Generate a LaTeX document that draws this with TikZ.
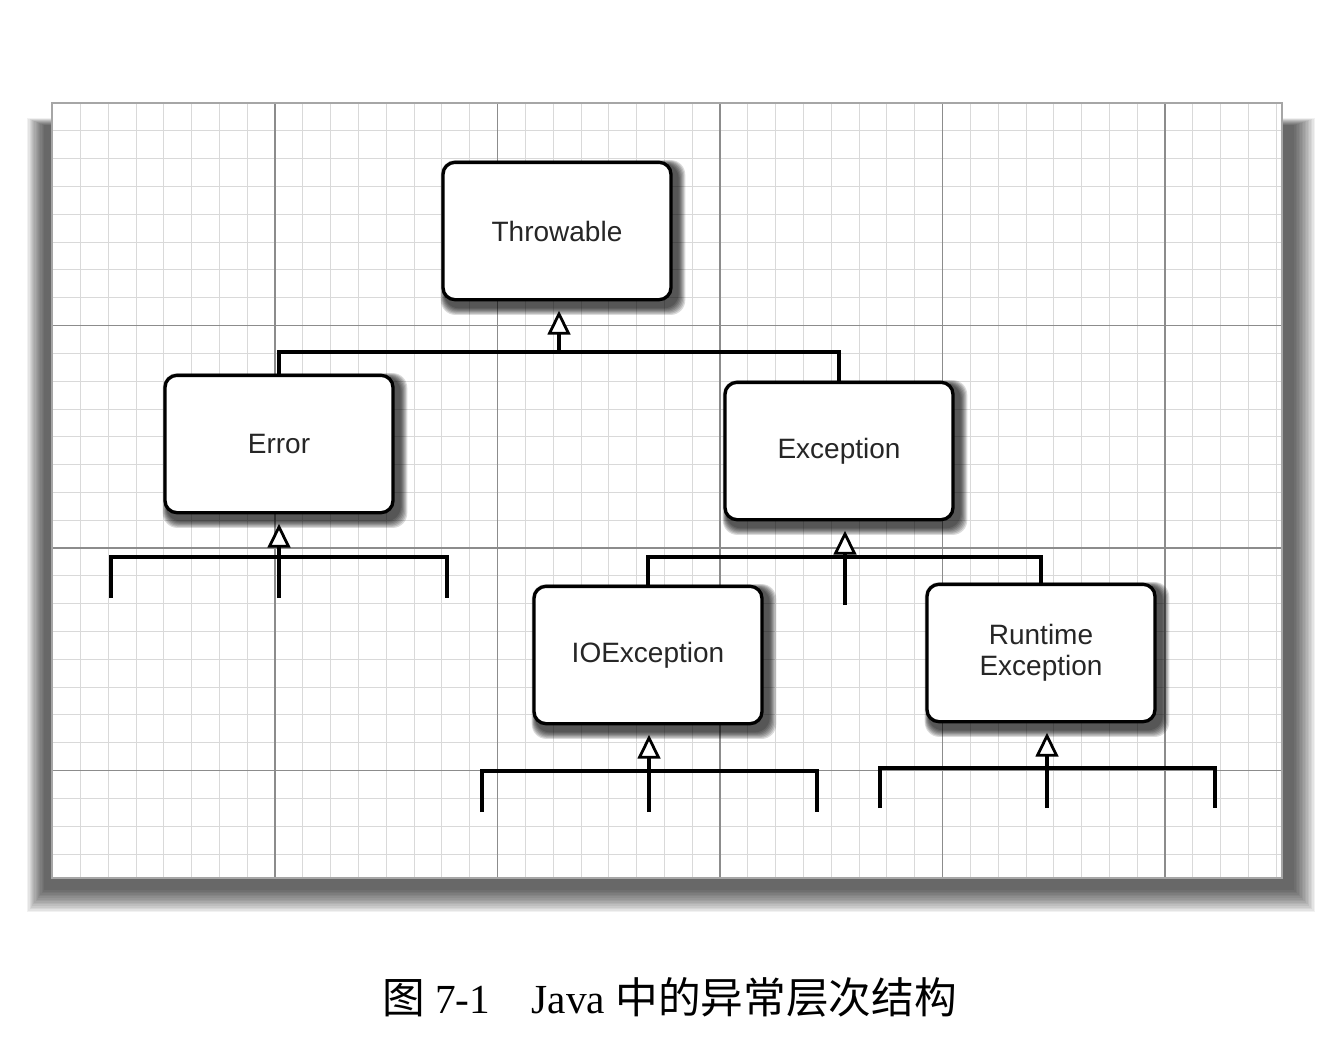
\documentclass[tikz,border=0pt]{standalone}
\usepackage{fontspec}
\setmainfont{Liberation Serif}
\newfontfamily\boxfont{Liberation Sans}
\newfontfamily\cjk{Noto Sans CJK SC}
\usetikzlibrary{arrows.meta}
\pgfdeclarelayer{bgzero}
\pgfdeclarelayer{bgone}
\pgfsetlayers{bgzero,bgone,main}
\tikzset{
  classbox/.style={draw=black, line width=2.5pt, fill=white, rounded corners=9pt,
    minimum width=171pt, minimum height=103pt, align=center,
    font=\boxfont\fontsize{21}{24}\selectfont, text=black!85},
  conn/.style={line width=2.6pt, line join=miter},
  inh/.style={line width=2.6pt, -{Triangle[length=18pt,width=17pt,fill=white,line width=2.1pt]}, shorten >=7pt},
  minorline/.style={draw=black!15, line width=0.6pt},
  majorline/.style={draw=black!45, line width=0.9pt},
}
\newcommand{\boxshade}[1]{%
  \foreach \k in {0,...,6}{%
    \fill[black, opacity=0.14, rounded corners=11pt]
      ([shift={(3-0.6*\k,3-0.6*\k)}]#1.north west) rectangle ([shift={(6+1.1*\k,7+1.1*\k)}]#1.south east);
  }%
}
\begin{document}
\begin{tikzpicture}[x=0.75pt,y=-0.75pt]
\useasboundingbox (0,0) rectangle (1335,1063);

% panel shadow and panel with grid
\begin{pgfonlayer}{bgzero}
  \fill[white] (0,0) rectangle (1335,1063);
  \foreach \i in {0,...,14}{
    \fill[black, opacity=0.055] (44-\i*1.2, 125-\i*0.5) rectangle (1294+\i*1.5, 890+\i*1.6);
  }
  \fill[white] (52,103) rectangle (1282,878);
  \foreach \i in {1,...,44}{
    \draw[minorline] ({52.5+\i*27.8125},103) -- ({52.5+\i*27.8125},878);
  }
  \foreach \j in {1,...,27}{
    \draw[minorline] (52,{103+\j*27.8125}) -- (1282,{103+\j*27.8125});
  }
  \foreach \i in {1,...,5}{
    \draw[majorline] ({52.5+\i*222.5},103) -- ({52.5+\i*222.5},878);
  }
  \foreach \j in {1,...,3}{
    \draw[majorline] (52,{103+\j*222.5}) -- (1282,{103+\j*222.5});
  }
  \draw[black!35, line width=0.9pt] (52,103) rectangle (1282,878);
\end{pgfonlayer}

% class boxes
\node[classbox] (throwable) at (557,231) {Throwable};
\node[classbox] (error) at (279,444) {Error};
\node[classbox] (exception) at (839,451) {Exception};
\node[classbox] (ioe) at (648,655) {IOException};
\node[classbox] (rte) at (1041,653) {Runtime\\[-1pt]Exception};

\begin{pgfonlayer}{bgone}
  \boxshade{throwable}
  \boxshade{error}
  \boxshade{exception}
  \boxshade{ioe}
  \boxshade{rte}
\end{pgfonlayer}

% Throwable subclasses
\coordinate (tj) at (559,352);
\draw[conn] (error.north) |- (tj) -| (exception.north);
\draw[inh] (tj) -- (tj |- throwable.south);

% Error subclasses (open)
\coordinate (ej) at (279,557);
\coordinate (el) at (111,598);
\coordinate (er) at (447,598);
\coordinate (em) at (279,598);
\draw[conn] (el) |- (ej) -| (er);
\draw[inh] (em) -- (em |- error.south);

% Exception subclasses
\coordinate (xj) at (845,557);
\coordinate (xm) at (845,605);
\draw[conn] (ioe.north) |- (xj) -| (rte.north);
\draw[inh] (xm) -- (xm |- exception.south);

% IOException subclasses (open)
\coordinate (ij) at (649,771);
\coordinate (il) at (482,812);
\coordinate (ir) at (817,812);
\coordinate (im) at (649,812);
\draw[conn] (il) |- (ij) -| (ir);
\draw[inh] (im) -- (im |- ioe.south);

% RuntimeException subclasses (open)
\coordinate (rj) at (1047,768);
\coordinate (rl) at (880,808);
\coordinate (rr) at (1215,808);
\coordinate (rm) at (1047,808);
\draw[conn] (rl) |- (rj) -| (rr);
\draw[inh] (rm) -- (rm |- rte.south);

% caption
\node[anchor=base west, inner sep=0pt, font=\fontsize{31}{36}\selectfont] (caption) at (382,1013)
  {{\cjk\fontsize{32}{36}\selectfont 图}\ 7-1\hspace{1em}Java {\cjk\fontsize{32}{36}\selectfont 中的异常层次结构}};
\end{tikzpicture}
\end{document}
